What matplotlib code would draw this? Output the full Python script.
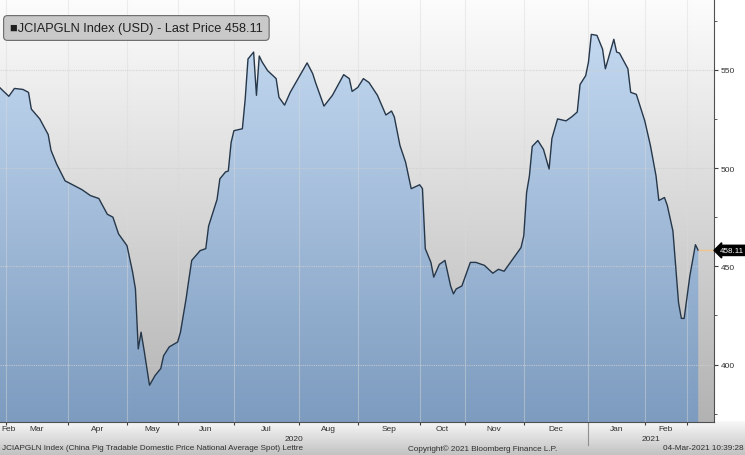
import numpy as np
import matplotlib.pyplot as plt
from matplotlib.transforms import blended_transform_factory

# Trading-session index (0 = 2 Mar 2020, China trading days only) and price readings
session = [-3, 1, 3, 6, 8, 9, 12, 15, 16, 18, 21, 23, 27, 30, 33, 36, 38, 40, 43, 45,
           46, 47, 48, 49, 51, 53, 55, 56, 58, 61, 62, 64, 65, 66, 69, 71, 72, 75, 76, 78,
           79, 80, 81, 84, 85, 86, 88, 89, 90, 91, 93, 96, 97, 99, 101, 104, 107, 109, 110, 113,
           116, 120, 122, 123, 125, 127, 129, 132, 135, 137, 138, 140, 142, 144, 147, 148, 149, 151, 152, 154,
           156, 158, 159, 160, 162, 165, 167, 170, 173, 175, 177, 180, 183, 184, 185, 186, 187, 189, 191, 193,
           194, 196, 199, 201, 203, 204, 206, 207, 208, 210, 212, 213, 215, 216, 217, 218, 221, 222, 224, 227,
           229, 231, 232, 234, 235, 237, 239, 240, 241, 243, 245, 246]
price = [542, 536.5, 540.5, 540, 538.5, 530, 525, 517, 509, 502, 493.5, 492, 489, 486, 484.5, 476.5, 475, 466.5, 460.5, 447,
         438.5, 408, 416.5, 408, 389.5, 394.5, 398, 404.5, 409, 411.5, 416.5, 433.5, 443.5, 453, 458, 459, 470.5, 484, 494.5, 498,
         498.5, 513, 519, 520, 535, 555.5, 559, 537, 557, 554, 549.5, 545.5, 536, 532, 538.5, 546, 553.5, 548, 543.5, 531.5,
         537, 547.5, 545.5, 539, 541, 545.5, 543.5, 537, 527, 529, 526, 511.5, 503, 489.5, 491.5, 489.5, 459, 452, 444.5, 451,
         453, 440, 436, 438.5, 440, 452, 452, 450.5, 446.5, 448.5, 447.5, 453.5, 459.5, 465.5, 487.5, 496, 511, 514, 509.5, 499.5,
         515, 525, 524, 526, 528.5, 542.5, 547, 554, 568, 567.5, 560.5, 550.5, 560.5, 565.5, 559, 558.5, 550.5, 538.5, 537.5, 524,
         511.5, 496, 483.5, 485, 481, 468, 431.5, 423.5, 423.5, 445, 461, 458.11]

month_start = [0, 22, 43, 61, 81, 104, 125, 147, 163, 184, 207, 227, 242]
month_name = ['Feb', 'Mar', 'Apr', 'May', 'Jun', 'Jul', 'Aug', 'Sep', 'Oct', 'Nov', 'Dec', 'Jan', 'Feb']
year_name = ['2020', '2021']
year_start = 207
last_price = 458.11

plt.rcParams['font.family'] = ['Liberation Sans', 'DejaVu Sans']

W, H = 745, 456
fig = plt.figure(figsize=(W / 100, H / 100), dpi=100)
fig.patch.set_facecolor('white')

# grey band under the chart
band = fig.add_axes([0, 0, 1, 34 / H], zorder=0)
band.imshow(np.linspace(0.97, 0.76, 64).reshape(-1, 1), cmap='gray', vmin=0, vmax=1,
            aspect='auto', extent=[0, 1, 0, 1], origin='upper')
band.axis('off')

ax = fig.add_axes([0, 33 / H, 714 / W, 1 - 33 / H], zorder=1)
x0, x1 = -2.13, 251.6
y0, y1 = 370.8, 586.0


def vgrad(top, bottom, n=256):
    t = np.linspace(0, 1, n)[:, None, None]
    return np.array(top)[None, None, :] * (1 - t) + np.array(bottom)[None, None, :] * t


# background gradient
ax.imshow(vgrad([0.99, 0.99, 0.99], [0.70, 0.70, 0.70]), extent=[x0, x1, y0, y1],
          aspect='auto', origin='upper', zorder=0)

# blue gradient under the curve
poly = ax.fill_between(session, price, y0 - 10, facecolor='none', edgecolor='none')
im = ax.imshow(vgrad([0.79, 0.87, 0.96], [0.49, 0.61, 0.75]), extent=[x0, x1, y0, y1],
               aspect='auto', origin='upper', zorder=1)
im.set_clip_path(poly.get_paths()[0], transform=ax.transData)

# grid
for yv in [400, 450, 500, 550]:
    ax.axhline(yv, color='#cfcfcf', lw=0.8, ls=(0, (1, 1)), alpha=0.8, zorder=2)
for m in month_start:
    ax.axvline(m, color='#dadada', lw=0.8, alpha=0.45, zorder=2)

ax.plot(session, price, color='#26374a', lw=1.0, zorder=3)
ax.hlines(last_price, session[-1], x1, color='#f0c48c', lw=1.0, zorder=3)

ax.set_xlim(x0, x1)
ax.set_ylim(y0, y1)

# axes styling
for s in ['top', 'left']:
    ax.spines[s].set_visible(False)
ax.spines['right'].set_color('#505050')
ax.spines['bottom'].set_color('#505050')
ax.spines['bottom'].set_linewidth(0.8)

ax.yaxis.tick_right()
ax.set_yticks([400, 450, 500, 550])
ax.set_yticks([375, 425, 475, 525, 575], minor=True)
ax.tick_params(axis='y', which='major', length=3, width=0.8, color='#404040',
               labelsize=6, labelcolor='#303030', pad=2)
ax.tick_params(axis='y', which='minor', length=2, width=0.6, color='#404040')
ax.set_xticks(month_start)
ax.set_xticklabels([])
ax.tick_params(axis='x', which='major', length=2.5, width=0.8, color='#404040')

# last price tag
ax.annotate(f'{last_price:.2f}', xy=(1, last_price), xycoords=('axes fraction', 'data'),
            xytext=(4, 0), textcoords='offset points', ha='left', va='center',
            color='white', fontsize=5.8, annotation_clip=False,
            bbox=dict(boxstyle='larrow,pad=0.2', fc='black', ec='black'))

# month and year labels
tr = blended_transform_factory(ax.transData, fig.transFigure)
lefts = [x0] + month_start[:-1]
rights = month_start
for i, name in enumerate(month_name):
    if i == 0:
        ax.text(x0 + 0.4, (H - 430) / H, name, transform=tr, ha='left', va='center',
                fontsize=6, color='#303030')
    else:
        ax.text((lefts[i] + rights[i]) / 2, (H - 430) / H, name, transform=tr,
                ha='center', va='center', fontsize=6, color='#303030')
ax.text((x0 + year_start) / 2, (H - 440) / H, year_name[0], transform=tr,
        ha='center', va='center', fontsize=6, color='#303030')
ax.text((year_start + x1) / 2, (H - 440) / H, year_name[1], transform=tr,
        ha='center', va='center', fontsize=6, color='#303030')
ax.plot([year_start, year_start], [(H - 424) / H, (H - 446) / H], transform=tr,
        color='#909090', lw=0.8, clip_on=False)

# footer
fig.text(2 / W, (H - 449) / H, 'JCIAPGLN Index (China Pig Tradable Domestic Price National Average Spot) Lettre',
         ha='left', va='center', fontsize=5.9, color='#303030')
fig.text(408 / W, (H - 449) / H, 'Copyright\u00a9 2021 Bloomberg Finance L.P.',
         ha='left', va='center', fontsize=5.9, color='#303030')
fig.text(744 / W, (H - 449) / H, '04-Mar-2021 10:39:28',
         ha='right', va='center', fontsize=5.9, color='#303030')

# legend box
fig.text(10 / W, 1 - 29 / H, '\u25a0JCIAPGLN Index (USD) - Last Price 458.11',
         ha='left', va='center', fontsize=9.2, color='#202020',
         bbox=dict(boxstyle='round,pad=0.5,rounding_size=0.3', fc='#c9c9c9', ec='#6a6a6a', lw=0.8))

fig.savefig('out.png', dpi=100)
